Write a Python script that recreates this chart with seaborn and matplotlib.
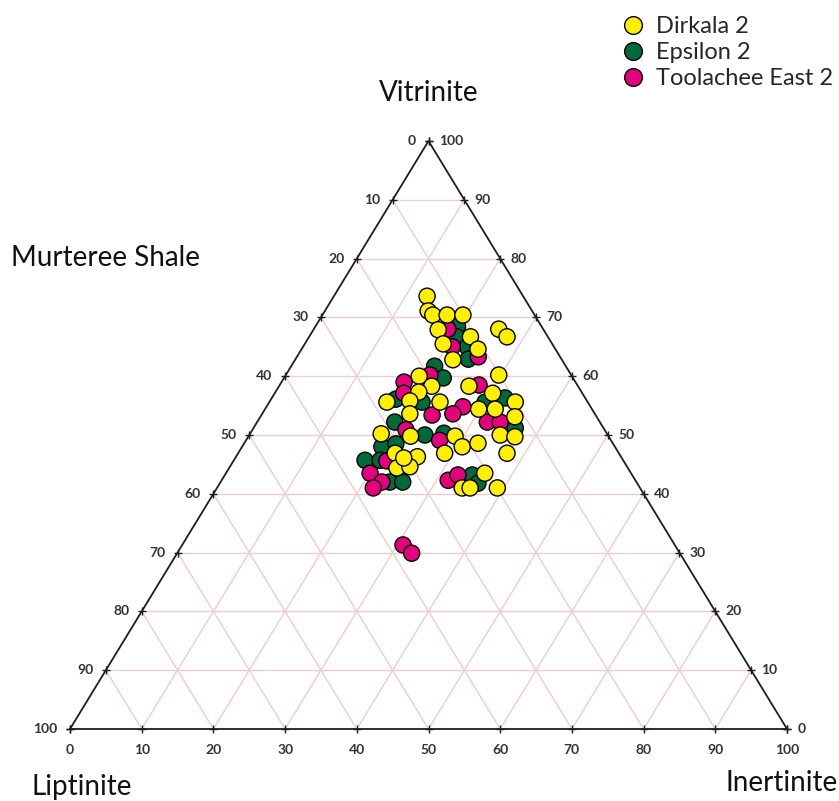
import numpy as np
import pandas as pd
import matplotlib
matplotlib.use("Agg")
import matplotlib.pyplot as plt
import seaborn as sns

# maceral composition in % : vitrinite, inertinite, liptinite
dirkala_vit = [73.6, 71.1, 70.4, 70.4, 70.4, 67.9, 66.7, 65.5, 64.6, 62.8, 68.0, 66.7,
               60.0, 58.3, 57.3, 55.6, 55.8, 55.6, 53.6, 50.2, 49.8, 60.2, 58.3, 57.1,
               55.6, 54.4, 54.4, 53.1, 50.0, 49.7, 49.8, 48.0, 46.9, 48.6, 46.9, 46.9,
               44.4, 46.3, 44.6, 46.1, 41.0, 41.0, 43.5, 41.0]
dirkala_ine = [13.0, 14.4, 15.4, 17.4, 19.6, 17.4, 22.5, 19.3, 24.6, 22.0, 25.8, 27.6,
               18.7, 21.3, 20.0, 16.4, 19.5, 23.8, 20.6, 18.3, 22.6, 29.7, 26.5, 30.4,
               34.3, 29.8, 32.1, 35.5, 35.0, 37.2, 28.8, 30.7, 28.8, 32.6, 37.5, 21.9,
               23.4, 25.3, 25.1, 23.5, 34.2, 35.3, 36.1, 39.1]
dirkala_lip = [13.4, 14.5, 14.2, 12.2, 10.0, 14.7, 10.8, 15.2, 10.8, 15.2, 6.2, 5.7,
               21.3, 20.4, 22.7, 28.0, 24.7, 20.6, 25.8, 31.5, 27.6, 10.1, 15.2, 12.5,
               10.1, 15.8, 13.5, 11.4, 15.0, 13.1, 21.4, 21.3, 24.3, 18.8, 15.6, 31.2,
               32.2, 28.4, 30.3, 30.4, 24.8, 23.7, 20.4, 19.9]

epsilon_vit = [68.5, 66.7, 65.0, 62.9, 61.7, 59.7, 56.1, 55.6, 52.2, 50.0, 48.0, 45.7,
               45.7, 42.0, 42.0, 48.5, 56.3, 55.6, 51.2, 43.2, 41.8, 50.3]
epsilon_ine = [19.8, 20.6, 22.9, 24.1, 20.0, 22.2, 17.4, 21.3, 19.2, 24.5, 19.5, 18.3,
               20.4, 23.6, 25.4, 21.2, 32.5, 30.1, 36.5, 34.5, 36.0, 27.0]
epsilon_lip = [11.7, 12.7, 12.1, 13.0, 18.3, 18.1, 26.5, 23.1, 28.6, 25.5, 32.5, 36.0,
               33.9, 34.4, 32.6, 30.3, 11.2, 14.3, 12.3, 22.3, 22.2, 22.7]

toolachee_vit = [68.0, 65.0, 63.3, 60.2, 59.0, 57.1, 53.4, 50.9, 54.8, 53.6, 58.5, 52.2,
                 52.2, 49.1, 45.6, 43.5, 42.0, 41.0, 42.3, 43.2, 31.3, 29.9]
toolachee_ine = [18.7, 20.8, 25.3, 20.1, 17.1, 18.0, 23.8, 21.4, 27.4, 26.6, 27.8, 32.1,
                 33.9, 27.0, 21.4, 20.1, 22.5, 21.8, 31.6, 32.5, 30.8, 32.7]
toolachee_lip = [13.3, 14.2, 11.4, 19.7, 23.9, 24.9, 22.8, 27.7, 17.8, 19.8, 13.7, 15.7,
                 13.9, 23.9, 33.0, 36.4, 35.5, 37.2, 26.1, 24.3, 37.9, 37.4]

wells = ["Dirkala 2", "Epsilon 2", "Toolachee East 2"]
colours = ["#FFEF00", "#006A3A", "#E5007D"]
ticks = list(range(0, 101, 10))

GRID = "#f1cccc"
EDGE = "#1e1e1e"
TICK_TXT = "#333333"


def to_xy(vit, ine):
    """Ternary (vitrinite, inertinite) -> cartesian, vitrinite apex on top."""
    vit = np.asarray(vit, dtype=float)
    ine = np.asarray(ine, dtype=float)
    return ine + vit / 2, vit


def well_frame(name, vit, ine, lip):
    x, y = to_xy(vit, ine)
    return pd.DataFrame({"well": name, "x": x, "y": y,
                         "vitrinite": vit, "inertinite": ine, "liptinite": lip})


sns.set_style("white")
plt.rcParams["font.family"] = ["Lato", "DejaVu Sans"]

# draw order: green, pink, then yellow on top
df = pd.concat([
    well_frame("Epsilon 2", epsilon_vit, epsilon_ine, epsilon_lip),
    well_frame("Toolachee East 2", toolachee_vit, toolachee_ine, toolachee_lip),
    well_frame("Dirkala 2", dirkala_vit, dirkala_ine, dirkala_lip),
], ignore_index=True)

fig = plt.figure(figsize=(8.39, 8.01), dpi=100)
ax = fig.add_axes([0, 0, 1, 1])
# triangle spans 717 x 588 px, bottom-left corner at (70, 729) px
ax.set_xlim(-70 / 7.17, 769 / 7.17)
ax.set_ylim(-72 / 5.88, 729 / 5.88)
ax.axis("off")

# grid lines for the three components
for k in ticks[1:-1]:
    ax.plot([k / 2, 100 - k / 2], [k, k], color=GRID, lw=1.0, zorder=1)
    ax.plot([k, k + (100 - k) / 2], [0, 100 - k], color=GRID, lw=1.0, zorder=1)
    ax.plot([100 - k, (100 - k) / 2], [0, 100 - k], color=GRID, lw=1.0, zorder=1)

# triangle outline
ax.plot([0, 100, 50, 0], [0, 0, 100, 0], color=EDGE, lw=1.3, zorder=2,
        solid_joinstyle="miter")

lab_kw = dict(textcoords="offset points", fontsize=10, fontweight="bold",
              color=TICK_TXT, va="center", annotation_clip=False)
for k in ticks:
    # left edge: liptinite
    lx, ly = (100 - k) / 2, 100 - k
    ax.plot(lx, ly, marker="+", ms=6, mew=1, color=EDGE, zorder=2)
    ax.annotate(str(k), (lx, ly), xytext=(-9, 0), ha="right", **lab_kw)
    # right edge: vitrinite
    rx, ry = 100 - k / 2, k
    ax.plot(rx, ry, marker="+", ms=6, mew=1, color=EDGE, zorder=2)
    ax.annotate(str(k), (rx, ry), xytext=(7.5, 0), ha="left", **lab_kw)
    # bottom edge: inertinite
    ax.plot(k, 0, marker="+", ms=6, mew=1, color=EDGE, zorder=2)
    ax.annotate(str(k), (k, 0), xytext=(0, -15), ha="center", **lab_kw)

sns.scatterplot(data=df, x="x", y="y", hue="well", hue_order=wells,
                palette=colours, s=135, edgecolor="black", linewidth=1.0,
                ax=ax, zorder=3)

handles, labels = ax.get_legend_handles_labels()
ax.legend(handles, labels, loc="upper left", bbox_to_anchor=(605 / 839, 1 - 7 / 801),
          frameon=False, fontsize=17, handletextpad=0.15, labelspacing=0.2,
          borderaxespad=0, handlelength=1.6, markerscale=1.1)

title_kw = dict(fontsize=20, ha="center", va="center", color="#111111")
ax.text(50, 108.2, "Vitrinite", **title_kw)
ax.text(4.9, 80.1, "Murteree Shale", **title_kw)
ax.text(1.7, -9.9, "Liptinite", **title_kw)
ax.text(99.2, -9.2, "Inertinite", **title_kw)

fig.savefig("out.png", dpi=100)
plt.close(fig)
print("[plot]  Saved -> out.png")
